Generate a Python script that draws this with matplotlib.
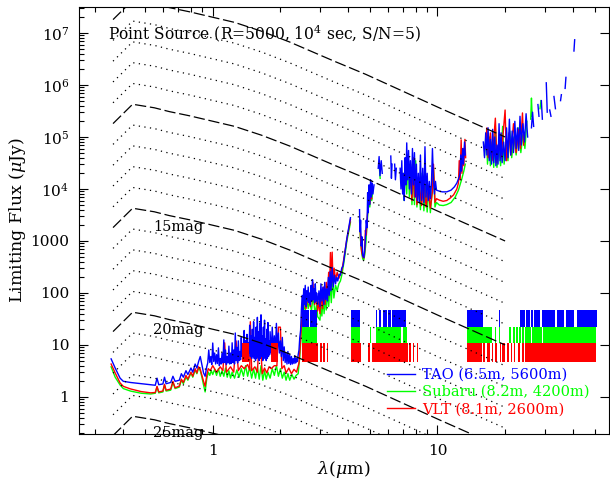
import numpy as np
import matplotlib
matplotlib.use("Agg")
import matplotlib.pyplot as plt
from matplotlib.ticker import FixedLocator, FixedFormatter, LogLocator, NullFormatter

plt.rcParams["font.family"] = ["DejaVu Serif"]
plt.rcParams["mathtext.fontset"] = "dejavuserif"
plt.rcParams["axes.linewidth"] = 0.8

nan = np.nan

# Vega zero points: band centre (um) and flux (Jy), U B V R I J H K L M N Q
band_wl = [0.36, 0.44, 0.55, 0.64, 0.79, 1.25, 1.65, 2.2, 3.45, 4.8, 10.1, 20.0]
band_f0 = [1810, 4260, 3640, 3080, 2550, 1600, 1080, 670, 290, 160, 37, 10]
mag_levels = list(range(5, 26))
mag_text = [("15mag", 0.70, 1850), ("20mag", 0.70, 19), ("25mag", 0.70, 0.205)]

# limiting flux (um, uJy); nan breaks the line
tao_points = [
    (0.353, 5.4), (0.368, 3.6), (0.387, 2.3), (0.40, 2.0), (0.43, 1.9), (0.48, 1.8),
    (0.53, 1.72), (0.555, 1.68), (0.565, 2.3), (0.575, 1.72), (0.60, 1.78), (0.61, 2.4),
    (0.62, 1.8), (0.65, 1.9), (0.665, 2.5), (0.68, 2.0), (0.71, 2.1), (0.725, 2.8),
    (0.74, 2.4), (0.76, 3.2), (0.775, 2.7), (0.80, 3.6), (0.815, 3.0), (0.835, 4.3),
    (0.85, 3.6), (0.865, 4.8), (0.88, 6.0), (0.895, 4.2), (0.91, 2.9), (0.925, 2.5),
    (0.94, 3.8), (0.95, 4.5), (0.96, 8.0), (0.97, 4.6), (0.98, 6.0), (0.99, 4.2),
    (1.00, 10.9), (1.01, 4.8), (1.02, 7.0), (1.03, 4.3), (1.04, 6.5), (1.05, 4.4),
    (1.06, 8.8), (1.07, 4.0), (1.08, 5.5), (1.09, 4.3), (1.10, 7.0), (1.11, 4.5),
    (1.12, 12.5), (1.13, 4.6), (1.14, 8.0), (1.15, 4.2), (1.16, 6.0), (1.17, 4.5),
    (1.18, 9.5), (1.19, 4.3), (1.20, 7.0), (1.21, 4.4), (1.22, 11), (1.23, 4.6),
    (1.24, 8.0), (1.25, 4.3), (1.26, 17), (1.27, 5.0), (1.28, 9.0), (1.29, 4.5),
    (1.30, 12), (1.31, 5.0), (1.32, 7.5), (1.33, 5.2), (1.34, 14), (1.35, 6.0),
    (1.36, 10), (1.37, 6.5), (1.38, 19), (1.39, 6.0), (1.40, 12), (1.41, 7.0),
    (1.42, 16), (1.43, 6.5), (1.44, 11), (1.45, 7.0), (1.46, 24), (1.47, 6.0),
    (1.48, 15), (1.49, 5.5), (1.50, 20), (1.51, 6.0), (1.52, 28), (1.53, 5.5),
    (1.54, 14), (1.55, 5.0), (1.56, 22), (1.57, 5.5), (1.58, 34), (1.59, 6.0),
    (1.60, 18), (1.61, 5.0), (1.62, 26), (1.63, 5.5), (1.64, 38), (1.65, 6.0),
    (1.66, 15), (1.67, 5.0), (1.68, 22), (1.69, 5.5), (1.70, 30), (1.71, 6.0),
    (1.72, 13), (1.73, 5.0), (1.74, 20), (1.75, 5.5), (1.76, 27), (1.77, 6.0),
    (1.78, 12), (1.79, 6.5), (1.80, 18), (1.82, 7.0), (1.84, 22), (1.86, 8.0),
    (1.88, 15), (1.90, 7.5), (1.92, 26), (1.94, 8.0), (1.96, 17), (1.98, 7.0),
    (2.00, 12), (2.02, 6.0), (2.04, 14), (2.06, 5.0), (2.08, 9.2), (2.10, 4.6),
    (2.12, 7.0), (2.14, 4.3), (2.16, 7.5), (2.18, 4.4), (2.20, 6.5), (2.22, 4.2),
    (2.24, 6.0), (2.26, 4.3), (2.28, 5.5), (2.30, 4.4), (2.32, 6.2), (2.34, 4.5),
    (2.36, 5.5), (2.38, 4.8), (2.40, 6.5), (2.42, 8.0), (2.44, 14), (2.46, 19),
    (2.48, 47), (2.50, 90), (2.52, 45), (2.54, 120), (2.56, 60), (2.58, 140),
    (2.60, 55), (2.62, 110), (2.64, 70), (2.66, 130), (2.68, 65), (2.70, 100),
    (2.72, 60), (2.74, 140), (2.76, 70), (2.78, 180), (2.80, 75), (2.82, 120),
    (2.84, 65), (2.86, 150), (2.88, 70), (2.90, 100),
    (2.93, 60), (2.97, 110), (3.00, 55), (3.03, 150), (3.06, 70), (3.09, 130),
    (3.12, 60), (3.15, 160), (3.18, 75), (3.21, 120), (3.24, 70), (3.27, 200),
    (3.30, 90), (3.33, 260), (3.36, 110), (3.40, 310), (3.44, 130), (3.48, 220),
    (3.52, 150), (3.56, 200), (3.60, 170), (3.65, 230), (3.70, 220), (3.75, 300),
    (3.80, 330), (3.85, 500), (3.90, 750), (3.95, 1100), (4.00, 1500), (4.05, 2000),
    (4.10, 2800), (nan, nan),
    (4.50, 4000), (4.52, 1500), (4.55, 2500), (4.58, 800), (4.62, 1200), (4.65, 520),
    (4.70, 480), (4.74, 650), (4.78, 1100), (4.82, 2500), (4.86, 1800), (4.89, 8500),
    (4.92, 3500), (4.96, 1.2e4), (5.00, 5000), (5.04, 1.5e4), (5.08, 7000), (5.12, 1.3e4),
    (5.16, 8000), (5.22, 1.2e4), (nan, nan),
    (5.45, 2.5e4), (5.50, 4.2e4), (5.55, 1.8e4), (5.62, 3.5e4), (5.68, 2.0e4), (nan, nan),
    (6.20, 4.3e4), (6.24, 1.6e4), (6.28, 3.0e4), (nan, nan),
    (6.45, 3.0e4), (6.50, 1.5e4), (6.56, 2.5e4), (nan, nan),
    (6.82, 2.5e4), (6.88, 1.0e4), (6.94, 3.5e4), (7.00, 8e3), (7.06, 2.0e4), (7.12, 6e3),
    (7.18, 4.0e4), (7.24, 1.2e4), (7.30, 7.7e4), (7.36, 1.5e4), (7.44, 5.5e4), (7.50, 1.0e4),
    (7.58, 3.5e4), (7.66, 8e3), (7.74, 6.0e4), (7.82, 1.2e4), (7.90, 5.0e4), (7.98, 7e3),
    (8.06, 3.0e4), (8.14, 6e3), (8.22, 2.0e4), (8.30, 5.5e3), (8.40, 4.5e4), (8.50, 6e3),
    (8.60, 2.5e4), (8.70, 5.5e3), (8.80, 6.5e4), (8.90, 7e3), (9.00, 2.0e4), (9.10, 6e3),
    (9.20, 1.4e4), (9.30, 6.5e3), (9.40, 1.2e4), (9.50, 6.0e4), (9.60, 1.5e4), (9.70, 8e3),
    (9.80, 1.4e4), (9.90, 9.5e3), (10.1, 9.2e3), (10.5, 8.8e3), (11.0, 8.8e3), (11.5, 9.5e3),
    (11.9, 1.1e4), (12.2, 1.3e4), (12.5, 1.7e4), (12.6, 2.0e4), (12.7, 4.5e4), (12.8, 2.2e4),
    (12.95, 6e4), (13.05, 3e4), (13.2, 8e4), (13.3, 4.5e4), (nan, nan),
    (16.0, 8e4), (16.2, 4e4), (16.4, 1.2e5), (16.6, 4.5e4), (16.8, 1.5e5), (17.0, 3.5e4),
    (17.2, 9e4), (17.4, 3e4), (17.6, 1.4e5), (17.8, 3.2e4), (18.0, 1.0e5), (18.2, 2.8e4),
    (18.4, 7e4), (18.6, 3e4), (18.8, 1.8e5), (19.0, 3.5e4), (19.2, 1.2e5), (19.4, 3.2e4),
    (19.7, 8e4), (20.0, 3.5e4), (20.3, 1.5e5), (20.6, 4e4), (20.9, 2.2e5), (21.2, 4.5e4),
    (21.5, 1.3e5), (21.8, 5e4), (22.1, 2.0e5), (22.4, 6e4), (22.7, 1.5e5), (23.0, 5.5e4),
    (23.3, 2.5e5), (23.6, 7e4), (24.0, 1.8e5), (24.4, 8e4), (24.8, 2.8e5), (25.2, 1.0e5),
    (nan, nan),
    (26.2, 1.5e5), (26.5, 3.0e5), (26.8, 1.6e5), (nan, nan),
    (28.0, 4.2e5), (28.3, 2.5e5), (nan, nan),
    (29.0, 5.0e5), (29.3, 2.2e5), (nan, nan),
    (30.5, 1.1e6), (30.8, 3e5), (nan, nan),
    (31.6, 3.3e5), (32.0, 2.5e5), (nan, nan),
    (33.0, 6e5), (33.5, 3.5e5), (nan, nan),
    (35.3, 5e5), (35.6, 6.5e5), (nan, nan),
    (37.0, 8.6e5), (37.3, 1.4e6), (nan, nan),
    (40.5, 4.5e6), (40.8, 7.4e6),
]

subaru_points = [
    (0.353, 3.8), (0.368, 2.4), (0.387, 1.7), (0.40, 1.45), (0.43, 1.3), (0.48, 1.18),
    (0.53, 1.14), (0.555, 1.18), (0.565, 1.56), (0.575, 1.2), (0.60, 1.25), (0.61, 1.7),
    (0.62, 1.3), (0.65, 1.35), (0.665, 1.9), (0.68, 1.45), (0.71, 1.55), (0.725, 2.1),
    (0.74, 1.8), (0.76, 2.4), (0.775, 2.1), (0.80, 2.9), (0.815, 2.4), (0.835, 3.3),
    (0.85, 2.8), (0.865, 3.6), (0.88, 3.2), (0.895, 2.4), (0.91, 1.7), (0.925, 1.25),
    (0.94, 2.2), (0.955, 3.0), (0.97, 2.6), (0.985, 3.2), (1.00, 2.7), (1.02, 3.4),
    (1.04, 2.6), (1.06, 3.5), (1.08, 2.5), (1.10, 3.2), (1.12, 2.5), (1.14, 3.6),
    (1.16, 2.4), (1.18, 3.2), (1.20, 2.3), (1.22, 3.0), (1.25, 2.3), (1.28, 3.3),
    (1.31, 2.4), (1.34, 3.5), (1.37, 2.5), (1.40, 4.0), (1.43, 2.5), (1.46, 3.8),
    (1.49, 2.3), (1.52, 3.5), (1.55, 2.3), (1.58, 3.8), (1.61, 2.2), (1.64, 4.0),
    (1.67, 2.1), (1.70, 3.2), (1.73, 2.2), (1.76, 3.0), (1.80, 2.3), (1.84, 3.5),
    (1.88, 2.6), (1.92, 4.0), (1.96, 2.5), (2.00, 3.5), (2.04, 2.3), (2.08, 3.0),
    (2.12, 2.1), (2.16, 2.8), (2.20, 2.1), (2.25, 2.7), (2.30, 2.2), (2.35, 2.6),
    (2.40, 2.8), (2.44, 6.0), (2.47, 15), (2.50, 35), (2.54, 60), (2.58, 45),
    (2.62, 80), (2.66, 50), (2.70, 70), (2.75, 45), (2.80, 90), (2.85, 40), (2.90, 60),
    (2.93, 35), (2.96, 33), (3.00, 30), (3.03, 60), (3.06, 36), (3.10, 80),
    (3.13, 40), (3.17, 90), (3.20, 47), (3.25, 110), (3.28, 55), (3.33, 150),
    (3.37, 65), (3.42, 200), (3.46, 80), (3.52, 140), (3.58, 110), (3.64, 150),
    (3.70, 170), (3.76, 230), (3.82, 350), (3.88, 550), (3.94, 900), (4.00, 1300),
    (4.06, 1800), (4.10, 2300), (nan, nan),
    (4.50, 2500), (4.55, 1000), (4.60, 600), (4.65, 450), (4.70, 430), (4.75, 550),
    (4.80, 900), (4.85, 1800), (4.90, 3500), (4.95, 6000), (5.00, 4500), (5.05, 8000),
    (5.10, 6000), (5.15, 9000), (nan, nan),
    (5.50, 3.0e4), (5.56, 1.6e4), (nan, nan),
    (7.0, 2.0e4), (7.1, 6e3), (7.2, 3.0e4), (7.3, 8e3), (7.4, 4.5e4), (7.5, 7e3),
    (7.6, 3.0e4), (7.7, 5e3), (7.8, 2.5e4), (7.9, 5e3), (8.0, 3.5e4), (8.1, 4.5e3),
    (8.25, 1.5e4), (8.4, 4.0e3), (8.55, 2.0e4), (8.7, 3.8e3), (8.85, 1.2e4), (9.0, 3.6e3),
    (9.15, 1.0e4), (9.3, 3.5e3), (9.45, 8e3), (9.6, 2.5e4), (9.75, 4.5e3), (9.9, 5.5e3),
    (10.2, 4.9e3), (10.6, 4.8e3), (11.0, 5.0e3), (11.5, 5.5e3), (12.0, 7.0e3), (12.4, 9.5e3),
    (12.8, 1.5e4), (13.1, 2.2e4), (13.3, 3.0e4), (nan, nan),
    (16.2, 4.5e4), (16.5, 1.2e5), (16.7, 3.0e4), (17.0, 1.0e5), (17.2, 2.8e4), (17.5, 8e4),
    (17.8, 2.6e4), (18.1, 1.5e5), (18.4, 2.6e4), (18.8, 6e4), (19.1, 2.8e4), (19.5, 1.6e5),
    (19.8, 3.0e4), (20.2, 9e4), (20.6, 3.5e4), (21.0, 1.3e5), (21.4, 4.0e4), (21.9, 1.0e5),
    (22.4, 4.5e4), (23.0, 1.5e5), (23.5, 5.0e4), (24.0, 1.1e5), (24.5, 6e4), (25.0, 2.0e5),
    (nan, nan),
    (26.0, 2.2e5), (26.2, 5.6e5), (26.4, 2.5e5), (nan, nan),
    (28.6, 3.5e5), (28.9, 5.0e5),
]

vlt_points = [
    (0.353, 4.3), (0.368, 2.9), (0.387, 1.86), (0.40, 1.6), (0.43, 1.43), (0.48, 1.27),
    (0.53, 1.2), (0.555, 1.22), (0.565, 1.6), (0.575, 1.25), (0.60, 1.3), (0.61, 1.75),
    (0.62, 1.35), (0.65, 1.42), (0.665, 2.0), (0.68, 1.5), (0.71, 1.62), (0.725, 2.2),
    (0.74, 1.9), (0.76, 2.6), (0.775, 2.2), (0.80, 3.0), (0.815, 2.5), (0.835, 3.5),
    (0.85, 2.9), (0.865, 3.8), (0.88, 3.4), (0.895, 2.6), (0.91, 2.0), (0.925, 1.6),
    (0.94, 2.6), (0.955, 3.5), (0.975, 3.2), (1.00, 4.0), (1.04, 3.0), (1.08, 3.8),
    (1.11, 3.2), (1.13, 11), (1.15, 3.0), (1.20, 3.8), (1.24, 3.0), (1.27, 12),
    (1.30, 3.2), (1.34, 4.0), (1.38, 3.5), (1.43, 4.2), (1.46, 3.3), (1.47, 28),
    (1.49, 3.2), (1.54, 3.8), (1.58, 3.0), (1.62, 20), (1.66, 2.8), (1.70, 3.6),
    (1.74, 2.9), (1.78, 3.8), (1.82, 3.5), (1.88, 4.0), (1.93, 4.0), (1.96, 22),
    (2.00, 22), (2.03, 3.5), (2.08, 4.0), (2.12, 2.9), (2.18, 3.6), (2.24, 2.8),
    (2.30, 3.4), (2.36, 3.0), (2.42, 4.5), (2.46, 12), (2.50, 40), (2.55, 70),
    (2.60, 50), (2.66, 90), (2.72, 55), (2.79, 160), (2.84, 60), (2.90, 80),
    (2.93, 45), (2.97, 70), (3.00, 40), (3.04, 100), (3.08, 50), (3.12, 130),
    (3.16, 60), (3.20, 160), (3.24, 80), (3.28, 250), (3.31, 110), (3.34, 600),
    (3.37, 130), (3.40, 610), (3.43, 160), (3.47, 300), (3.52, 180), (3.58, 250),
    (3.64, 190), (3.70, 230), (3.76, 280), (3.82, 420), (3.88, 650), (3.94, 1000),
    (4.00, 1450), (4.06, 2000), (4.10, 2600), (nan, nan),
    (4.52, 2000), (4.56, 900), (4.60, 620), (4.65, 500), (4.70, 470), (4.74, 600),
    (4.78, 1600), (4.82, 1300), (4.86, 2500), (4.90, 4000), (4.95, 7000), (5.00, 5200),
    (5.05, 9000), (5.10, 6500), (nan, nan),
    (7.6, 1.5e4), (7.7, 6e3), (7.8, 4.0e4), (7.9, 7e3), (8.0, 2.0e4), (8.1, 5e3),
    (8.3, 1.2e4), (8.5, 4.8e3), (8.7, 1.5e4), (8.9, 4.5e3), (9.1, 1.0e4), (9.3, 4.3e3),
    (9.5, 9e3), (9.6, 3.0e4), (9.75, 5.5e3), (9.9, 6.5e3), (10.2, 6.1e3), (10.6, 5.8e3),
    (11.0, 6.0e3), (11.4, 6.7e3), (11.8, 7.7e3), (12.2, 1.0e4), (12.4, 1.3e4), (12.5, 3.5e4),
    (12.6, 1.5e4), (12.75, 8.8e4), (12.85, 2.0e4), (13.0, 6e4), (13.1, 2.8e4), (13.25, 9e4),
    (13.35, 4e4), (nan, nan),
    (16.3, 6e4), (16.6, 1.5e5), (16.8, 4e4), (17.2, 1.2e5), (17.5, 3.5e4), (18.1, 2.3e5),
    (18.4, 3.2e4), (18.9, 1.2e5), (19.2, 4e4), (20.0, 3.3e5), (20.3, 3.5e4), (20.8, 1.2e5),
    (21.2, 4.5e4), (21.8, 1.8e5), (22.4, 5e4), (23.0, 1.4e5), (23.4, 6e4), (23.9, 2.9e5),
    (24.2, 7e4),
]

# wavelength ranges (um) flagged for each site, drawn as coloured blocks
tao_bars = [(2.50, 2.69), (2.72, 2.92), (4.14, 4.50), (5.35, 5.40), (5.52, 5.63),
            (5.75, 5.99), (6.05, 6.24), (6.30, 6.99), (7.06, 7.28), (13.5, 16.0),
            (18.7, 18.9), (21.8, 22.0), (22.5, 22.7), (23.2, 23.7), (23.9, 24.4),
            (24.9, 25.9), (26.2, 26.5), (26.8, 28.5), (29.1, 33.2), (33.9, 36.4),
            (37.2, 40.7), (41.6, 51.1)]
subaru_bars = [(2.50, 2.92), (4.14, 4.50), (4.99, 5.04), (5.35, 6.90), (7.00, 7.15),
               (7.20, 7.35), (13.5, 17.5), (18.0, 18.2), (18.8, 19.0), (20.8, 21.2),
               (21.7, 22.2), (22.3, 22.9), (23.0, 23.6), (23.7, 24.3), (24.4, 25.7),
               (25.9, 26.2), (26.4, 29.2), (29.4, 50.9)]
vlt_bars = [(1.35, 1.45), (1.82, 1.96), (2.50, 2.95), (3.01, 3.07), (3.11, 3.17),
            (3.24, 3.27), (4.14, 4.59), (4.91, 5.03), (5.12, 7.40), (7.50, 7.60),
            (7.77, 7.84), (8.13, 8.20), (13.5, 15.8), (16.0, 16.3), (16.7, 17.2),
            (17.5, 17.7), (18.0, 18.2), (18.3, 18.4), (18.9, 19.1), (19.3, 20.0),
            (20.4, 20.8), (21.2, 21.5), (21.8, 22.2), (22.8, 23.3), (23.8, 24.2),
            (24.5, 50.9)]
tao_bar_rows = (22.5, 47.0)
subaru_bar_rows = (10.8, 22.5)
vlt_bar_rows = (4.8, 10.8)

ytick_vals = [1, 10, 100, 1000, 1e4, 1e5, 1e6, 1e7]
ytick_text = ["1", "10", "100", "1000", r"$10^4$", r"$10^5$", r"$10^6$", r"$10^7$"]

c_tao, c_subaru, c_vlt = "#0000ff", "#00ff00", "#ff0000"

fig = plt.figure(figsize=(6.10, 4.87), dpi=100)
ax = fig.add_axes([79 / 610, 53 / 487, 530 / 610, 427 / 487])
ax.set_xscale("log")
ax.set_yscale("log")
ax.set_xlim(0.254, 58.0)
ax.set_ylim(0.194, 3.16e7)

# spectra: Subaru first, VLT, TAO on top
spectra = [(subaru_points, c_subaru, "Subaru (8.2m, 4200m)"),
           (vlt_points, c_vlt, "VLT (8.1m, 2600m)"),
           (tao_points, c_tao, "TAO (6.5m, 5600m)")]
handles = {}
for z, (pts, col, lab) in enumerate(spectra):
    wl, fl = np.array(pts).T
    ln, = ax.plot(wl, fl, color=col, lw=1.0, zorder=2 + z, label=lab)
    handles[lab] = ln

# flagged-wavelength blocks
for bars, rows, col in [(tao_bars, tao_bar_rows, c_tao),
                        (subaru_bars, subaru_bar_rows, c_subaru),
                        (vlt_bars, vlt_bar_rows, c_vlt)]:
    ax.broken_barh([(a, b - a) for a, b in bars], (rows[0], rows[1] - rows[0]),
                   facecolors=col, edgecolors="none", zorder=6)

# constant-magnitude lines
wl_b = np.array(band_wl)
f0_b = np.array(band_f0) * 1e6
for m in mag_levels:
    ls = (0, (9, 3)) if m % 5 == 0 else (0, (1, 3.5))
    ax.plot(wl_b, f0_b * 10 ** (-0.4 * m), color="black", lw=0.9, ls=ls, zorder=7)
for txt, x, y in mag_text:
    ax.text(x, y, txt, fontsize=10.5, ha="center", va="center", zorder=8, clip_on=False)

ax.text(0.055, 0.939, "Point Source (R=5000, 10$^4$ sec, S/N=5)", transform=ax.transAxes,
        fontsize=11.2, ha="left", va="center")

# axes, ticks
ax.xaxis.set_major_locator(FixedLocator([1, 10]))
ax.xaxis.set_major_formatter(FixedFormatter(["1", "10"]))
ax.xaxis.set_minor_locator(LogLocator(base=10, subs=np.arange(2, 10)))
ax.xaxis.set_minor_formatter(NullFormatter())
ax.yaxis.set_major_locator(FixedLocator(ytick_vals))
ax.yaxis.set_major_formatter(FixedFormatter(ytick_text))
ax.yaxis.set_minor_locator(LogLocator(base=10, subs=np.arange(2, 10), numticks=20))
ax.yaxis.set_minor_formatter(NullFormatter())
ax.tick_params(which="both", direction="in", top=True, right=True, width=0.8, labelsize=11)
ax.tick_params(which="major", length=6.5)
ax.tick_params(which="minor", length=3.3)
ax.tick_params(axis="y", which="minor", right=False)
ax.tick_params(axis="x", pad=7)
ax.tick_params(axis="y", pad=7)

ax.set_ylabel(r"Limiting Flux ($\mu$Jy)", fontsize=12.5)
ax.yaxis.set_label_coords(-0.097, 0.5)
ax.set_xlabel(r"$\lambda$($\mu$m)", fontsize=12.5)
ax.xaxis.set_label_coords(0.5, -0.058)

leg = ax.legend([handles["TAO (6.5m, 5600m)"], handles["Subaru (8.2m, 4200m)"],
                 handles["VLT (8.1m, 2600m)"]],
                ["TAO (6.5m, 5600m)", "Subaru (8.2m, 4200m)", "VLT (8.1m, 2600m)"],
                loc="center left", bbox_to_anchor=(0.581, 0.098), frameon=False,
                fontsize=10.5, labelcolor="linecolor", borderpad=0, borderaxespad=0,
                handlelength=1.9, handletextpad=0.5, labelspacing=0.22)
leg.set_zorder(10)

fig.savefig("out.png", dpi=100)
